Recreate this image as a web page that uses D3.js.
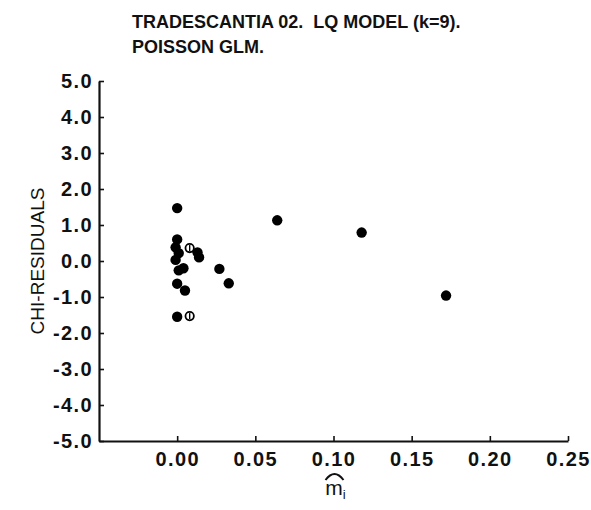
<!DOCTYPE html>
<html>
<head>
<meta charset="utf-8">
<script src="https://cdn.jsdelivr.net/npm/d3@7"></script>
<style>
  body { margin: 0; background: #fff; }
  svg { display: block; font-family: "Liberation Sans", Arial, Helvetica, sans-serif; }
  .title { white-space: pre; }
</style>
</head>
<body>
<div id="graph"></div>
<script>
const width = 591, height = 510;

const titleLines = ["TRADESCANTIA 02.  LQ MODEL (k=9).", "POISSON GLM."];
const yLabel = "CHI-RESIDUALS";

const xTicks = [0, 0.05, 0.10, 0.15, 0.20, 0.25];
const xTickLabels = ["0.00", "0.05", "0.10", "0.15", "0.20", "0.25"];
const yTicks = [5, 4, 3, 2, 1, 0, -1, -2, -3, -4, -5];
const yTickLabels = ["5.0", "4.0", "3.0", "2.0", "1.0", "0.0", "-1.0", "-2.0", "-3.0", "-4.0", "-5.0"];

// fitted values and chi residuals, filled points
const fittedSolid = [0.000, 0.000, -0.001, 0.001, -0.001, 0.001, 0.004, 0.000, 0.005, 0.000,
                     0.013, 0.014, 0.027, 0.033, 0.064, 0.118, 0.172];
const residSolid  = [1.47, 0.60, 0.38, 0.22, 0.03, -0.26, -0.20, -0.63, -0.82, -1.55,
                     0.24, 0.10, -0.22, -0.62, 1.13, 0.79, -0.96];
// open points
const fittedOpen = [0.008, 0.008];
const residOpen  = [0.36, -1.53];

const svg = d3.select("#graph")
    .append("svg")
    .attr("width", width)
    .attr("height", height);

const xScale = d3.scaleLinear().domain([-0.05, 0.25]).range([99, 568]);
const yScale = d3.scaleLinear().domain([-5, 5]).range([441, 81]);

// title
svg.append("g")
    .selectAll("text")
    .data(titleLines)
    .enter().append("text")
    .attr("class", "title")
    .attr("x", 132)
    .attr("y", (d, i) => 28 + i * 25)
    .attr("font-size", 18)
    .attr("font-weight", "bold")
    .attr("fill", "#111")
    .text(d => d);

const xAxis = d3.axisBottom(xScale)
    .tickValues(xTicks)
    .tickFormat((d, i) => xTickLabels[i])
    .tickSizeInner(-5)
    .tickSizeOuter(0)
    .tickPadding(11);

const yAxis = d3.axisLeft(yScale)
    .tickValues(yTicks)
    .tickFormat((d, i) => yTickLabels[i])
    .tickSizeInner(-5)
    .tickSizeOuter(0)
    .tickPadding(6);

const styleAxis = (g) => {
    g.attr("font-family", null).attr("font-size", null);
    g.select(".domain").attr("stroke", "#111").attr("stroke-width", 2.2);
    g.selectAll(".tick line").attr("stroke", "#111").attr("stroke-width", 1.6);
    g.selectAll(".tick text")
        .attr("fill", "#111")
        .attr("font-size", 20)
        .attr("font-weight", "bold")
        .attr("letter-spacing", 1.4);
};

svg.append("g")
    .attr("class", "xAxis")
    .attr("transform", "translate(0," + yScale(-5) + ")")
    .call(xAxis)
    .call(styleAxis);

svg.append("g")
    .attr("class", "yAxis")
    .attr("transform", "translate(" + xScale(-0.05) + ",0)")
    .call(yAxis)
    .call(styleAxis);

// y axis title
svg.append("text")
    .attr("transform", "translate(44," + yScale(0) + ") rotate(-90)")
    .attr("text-anchor", "middle")
    .attr("font-size", 19)
    .attr("fill", "#111")
    .text(yLabel);

// x axis title: m with a hat and subscript i
const xTitle = svg.append("g")
    .attr("transform", "translate(" + xScale(0.10) + ",0)");
const mLabel = xTitle.append("text")
    .attr("x", 2)
    .attr("y", 495)
    .attr("text-anchor", "middle")
    .attr("font-size", 21)
    .attr("fill", "#111");
mLabel.append("tspan").text("m");
mLabel.append("tspan").attr("font-size", 13).attr("dy", 4).text("i");
xTitle.append("path")
    .attr("d", "M-8,480 Q1,468 10,480")
    .attr("fill", "none")
    .attr("stroke", "#111")
    .attr("stroke-width", 2);

const solid = fittedSolid.map((d, i) => ({ x: d, y: residSolid[i] }));
const open = fittedOpen.map((d, i) => ({ x: d, y: residOpen[i] }));

svg.selectAll("circle.solid")
    .data(solid)
    .enter().append("circle")
    .attr("class", "solid")
    .attr("cx", d => xScale(d.x))
    .attr("cy", d => yScale(d.y))
    .attr("r", 5.2)
    .attr("fill", "#000");

// open points carry a short bar through the middle
const openG = svg.selectAll("g.open")
    .data(open)
    .enter().append("g")
    .attr("class", "open")
    .attr("transform", d => "translate(" + xScale(d.x) + "," + yScale(d.y) + ")");
openG.append("circle")
    .attr("r", 4.2)
    .attr("fill", "#fff")
    .attr("stroke", "#000")
    .attr("stroke-width", 1.8);
openG.append("line")
    .attr("y1", -3)
    .attr("y2", 3)
    .attr("stroke", "#000")
    .attr("stroke-width", 1.4);
</script>
</body>
</html>
